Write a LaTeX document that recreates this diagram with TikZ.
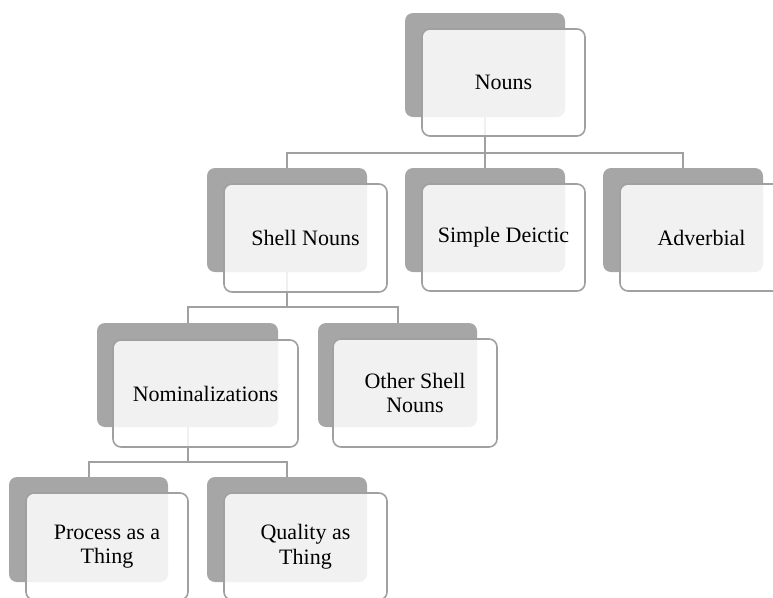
\documentclass[tikz,border=0pt]{standalone}
\usepackage{fontspec}
\setmainfont{Liberation Serif}
\definecolor{backgray}{HTML}{A6A6A6}
\definecolor{linegray}{HTML}{A0A0A0}
\begin{document}
\begin{tikzpicture}[x=0.75pt,y=-0.75pt,
  back/.style 2 args={rectangle, rounded corners=6pt, fill=backgray, draw=none,
    minimum width=#1*0.75pt, minimum height=#2*0.75pt, inner sep=0pt},
  front/.style 2 args={rectangle, rounded corners=6pt, fill=white, fill opacity=0.85,
    text opacity=1, draw=linegray, draw opacity=1, line width=1.2pt,
    minimum width=#1*0.75pt, minimum height=#2*0.75pt, inner sep=0pt, align=center,
    font=\fontsize{16.5}{18.5}\selectfont},
  conn/.style={draw=linegray, line width=1.5pt}]
\useasboundingbox (0,0) rectangle (773,597);
\clip (0,0) rectangle (773,597);
% back shapes
\node[back={160}{104}] (g0) at (485,65) {};
\node[back={160}{104}] (g1) at (287,220) {};
\node[back={160}{104}] (g2) at (485,220) {};
\node[back={160}{104}] (g3) at (683,220) {};
\node[back={181}{104}] (g4) at (187.5,375) {};
\node[back={159}{104}] (g5) at (397.5,375) {};
\node[back={159}{105}] (g6) at (88.5,529.5) {};
\node[back={160}{105}] (g7) at (287,529.5) {};
% connectors
\coordinate (b0) at (485,153);
\coordinate (b1) at (287,307);
\coordinate (b2) at (187.5,462);
\draw[conn] (g0.south) -- (b0) -| (g1.north);
\draw[conn] (b0) -- (g2.north);
\draw[conn] (b0) -| (g3.north);
\draw[conn] (g1.south) -- (b1) -| (g4.north);
\draw[conn] (b1) -| (g5.north);
\draw[conn] (g4.south) -- (b2) -| (g6.north);
\draw[conn] (b2) -| (g7.north);
% front shapes
\node[front={163}{107}] (f0) at (503.5,82.5) {Nouns};
\node[front={163}{108}] (f1) at (305.5,238) {Shell Nouns};
\node[front={163}{107}] (f2) at (503.5,237.5) {Simple Deictic};
\node[front={163}{107}] (f3) at (701.5,237.5) {Adverbial};
\node[front={185}{107}] (f4) at (205.5,393.5) {Nominalizations};
\node[front={164}{108}] (f5) at (415,393) {Other Shell\\Nouns};
\node[front={162}{107}] (f6) at (107,546.5) {Process as a\\Thing};
\node[front={163}{107}] (f7) at (305.5,546.5) {Quality as\\Thing};
\end{tikzpicture}
\end{document}
